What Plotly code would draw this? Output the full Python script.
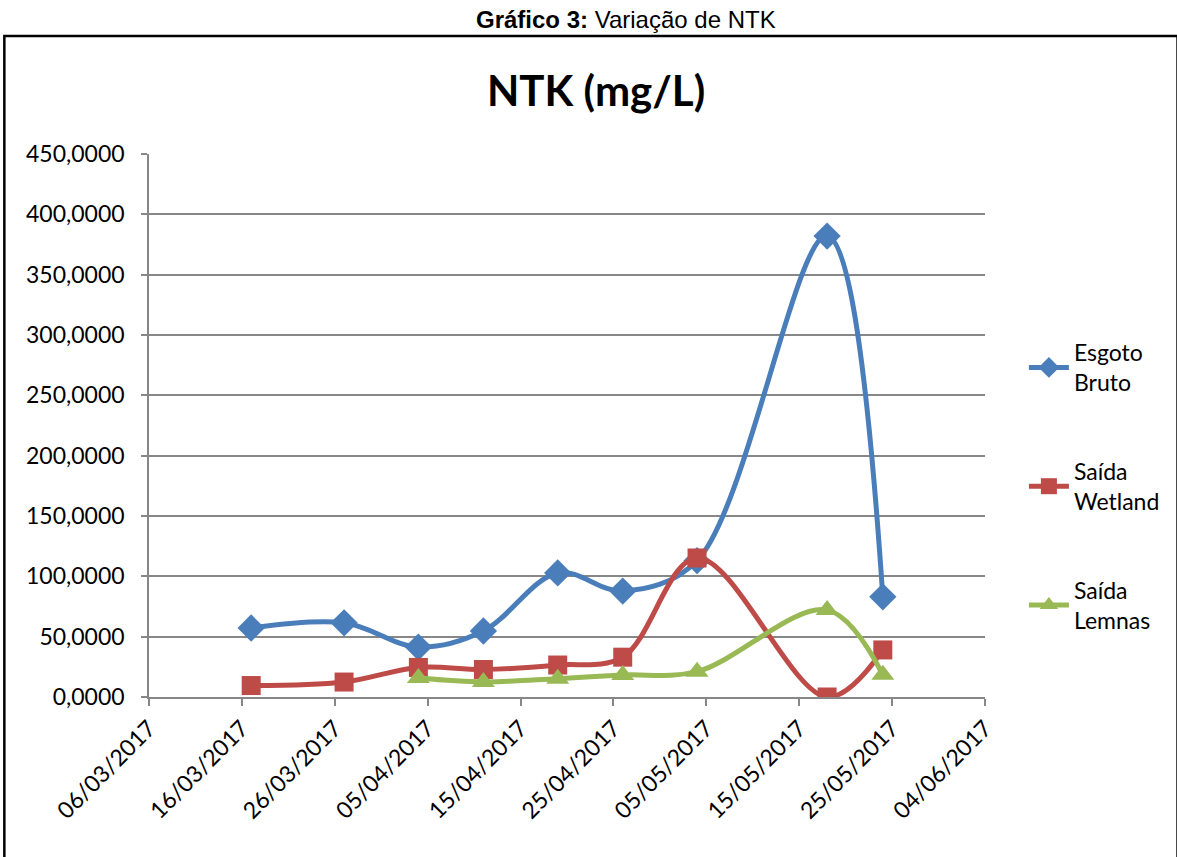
import plotly.graph_objects as go

dates = ["2017-03-17", "2017-03-27", "2017-04-04", "2017-04-11", "2017-04-19",
         "2017-04-26", "2017-05-04", "2017-05-18", "2017-05-24"]
esgoto_bruto = [57.2, 61.5, 41.4, 54.7, 102.8, 87.8, 113.0, 382.0, 83.0]
saida_wetland = [9.5, 12.4, 24.5, 22.8, 26.5, 33.0, 115.2, 0.0, 39.0]
lemnas_dates = ["2017-04-04", "2017-04-11", "2017-04-19", "2017-04-26",
                "2017-05-04", "2017-05-18", "2017-05-24"]
saida_lemnas = [15.7, 12.5, 15.2, 18.2, 21.0, 72.0, 18.5]

FONT = "Lato, Calibri, sans-serif"

fig = go.Figure()
series = [
    ("Esgoto<br>Bruto", dates, esgoto_bruto, "#4A7EBB", "diamond", 21),
    ("Saída<br>Wetland", dates, saida_wetland, "#BE4B48", "square", 19),
    ("Saída<br>Lemnas", lemnas_dates, saida_lemnas, "#98B954", "triangle-up", 20),
]
for i, (name, x, y, col, sym, sz) in enumerate(series):
    fig.add_trace(go.Scatter(
        x=x, y=y, name=name, mode="lines+markers",
        line=dict(color=col, width=5, shape="spline", smoothing=1.0),
        marker=dict(symbol=sym, size=sz, color=col),
        legendgroup=f"g{i}",
    ))

W, H = 1177, 857
L, R, T, B = 149, 987, 154, 697

def px(x):
    return (x - L) / (R - L)

def py(y):
    return (B - y) / (B - T)

fig.update_layout(
    width=W, height=H,
    margin=dict(l=L, r=W - R, t=T, b=H - B),
    paper_bgcolor="white", plot_bgcolor="white",
    separators=",.",
    font=dict(family=FONT, size=22, color="black"),
    showlegend=True,
    legend=dict(
        x=px(1026), y=py(331), xanchor="left", yanchor="top",
        font=dict(family=FONT, size=23, color="black"),
        tracegroupgap=56, itemwidth=40, bgcolor="rgba(0,0,0,0)",
    ),
    xaxis=dict(
        type="date",
        range=["2017-03-06", "2017-06-04"],
        tick0="2017-03-06", dtick=10 * 86400000,
        tickformat="%d/%m/%Y", tickangle=-45,
        showgrid=False, showline=True, linecolor="#878787", linewidth=1.5,
        ticks="outside", ticklen=7, tickcolor="#878787", tickwidth=1.5,
        tickfont=dict(family=FONT, size=23, color="black"),
        zeroline=False,
    ),
    yaxis=dict(
        range=[0, 450], dtick=50, tickformat=".4f",
        showgrid=True, gridcolor="#878787", gridwidth=1.5,
        showline=True, linecolor="#878787", linewidth=1.5,
        ticks="outside", ticklen=6, tickcolor="#878787", tickwidth=1.5,
        tickfont=dict(family=FONT, size=23, color="black"),
        ticklabelstandoff=12,
        zeroline=False,
    ),
)

# outer frame
fig.add_shape(type="rect", xref="paper", yref="paper",
              x0=px(4), x1=px(1180), y0=py(870), y1=py(36),
              line=dict(color="black", width=2.5), fillcolor="rgba(0,0,0,0)")

fig.add_annotation(
    xref="paper", yref="paper", x=px(627), y=py(20),
    text="<b>Gráfico 3:</b> Variação de NTK", showarrow=False,
    font=dict(family="Liberation Sans, Arial, sans-serif", size=24, color="black"),
    xanchor="center", yanchor="middle",
)
fig.add_annotation(
    xref="paper", yref="paper", x=px(597), y=py(90),
    text="<b>NTK (mg/L)</b>", showarrow=False,
    font=dict(family=FONT, size=42, color="black"),
    xanchor="center", yanchor="middle",
)

fig.write_html("out.html")
